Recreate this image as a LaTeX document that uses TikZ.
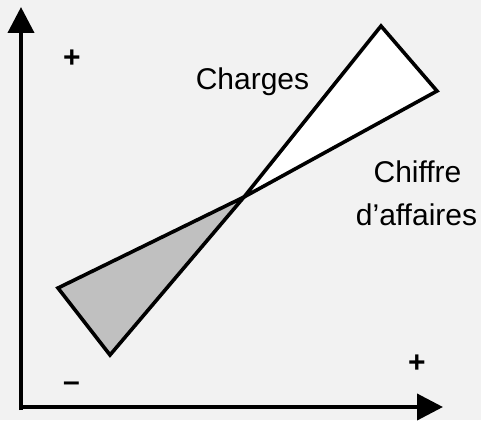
\documentclass[tikz,border=0pt]{standalone}
\usepackage{fontspec}
\setmainfont{Liberation Sans}
\usetikzlibrary{arrows.meta}
\definecolor{bg}{HTML}{F2F2F2}
\definecolor{shade}{HTML}{C0C0C0}
\begin{document}
\begin{tikzpicture}[x=1pt,y=-1pt,
  axis/.style={line width=4pt,-{Triangle[length=26pt,width=26pt]}},
  wedge/.style={draw=black,line width=3.6pt,line join=miter},
  lbl/.style={font=\fontsize{30}{43}\selectfont,inner sep=0pt,anchor=base},
  sign/.style={font=\fontsize{30}{36}\selectfont\bfseries,inner sep=0pt}]
\fill[bg] (0,0) rectangle (481,420);
\useasboundingbox (0,0) rectangle (481,420);
% axes
\coordinate (O1) at (21,410);
\coordinate (ytip) at (21,7);
\coordinate (O2) at (19,407);
\coordinate (xtip) at (443,407);
\draw[axis] (O1) -- (ytip);
\draw[axis] (O2) -- (xtip);
% triangles
\coordinate (C) at (244,197);
\coordinate (A) at (58,288);
\coordinate (B) at (110,355);
\coordinate (D) at (381,26);
\coordinate (E) at (437,91);
\filldraw[wedge,fill=shade] (C) -- (A) -- (B) -- cycle;
\filldraw[wedge,fill=white] (C) -- (D) -- (E) -- cycle;
% labels
\node[lbl] (charges) at (252.5,89) {Charges};
\node[lbl] (chiffre) at (417.5,182) {Chiffre};
\node[lbl] (affaires) at (416.5,225) {d’affaires};
\node[sign] (plusy) at (72,59) {+};
\node[sign] (plusx) at (417,364) {+};
\node[sign] (minus) at (71.5,387) {–};
\end{tikzpicture}
\end{document}
